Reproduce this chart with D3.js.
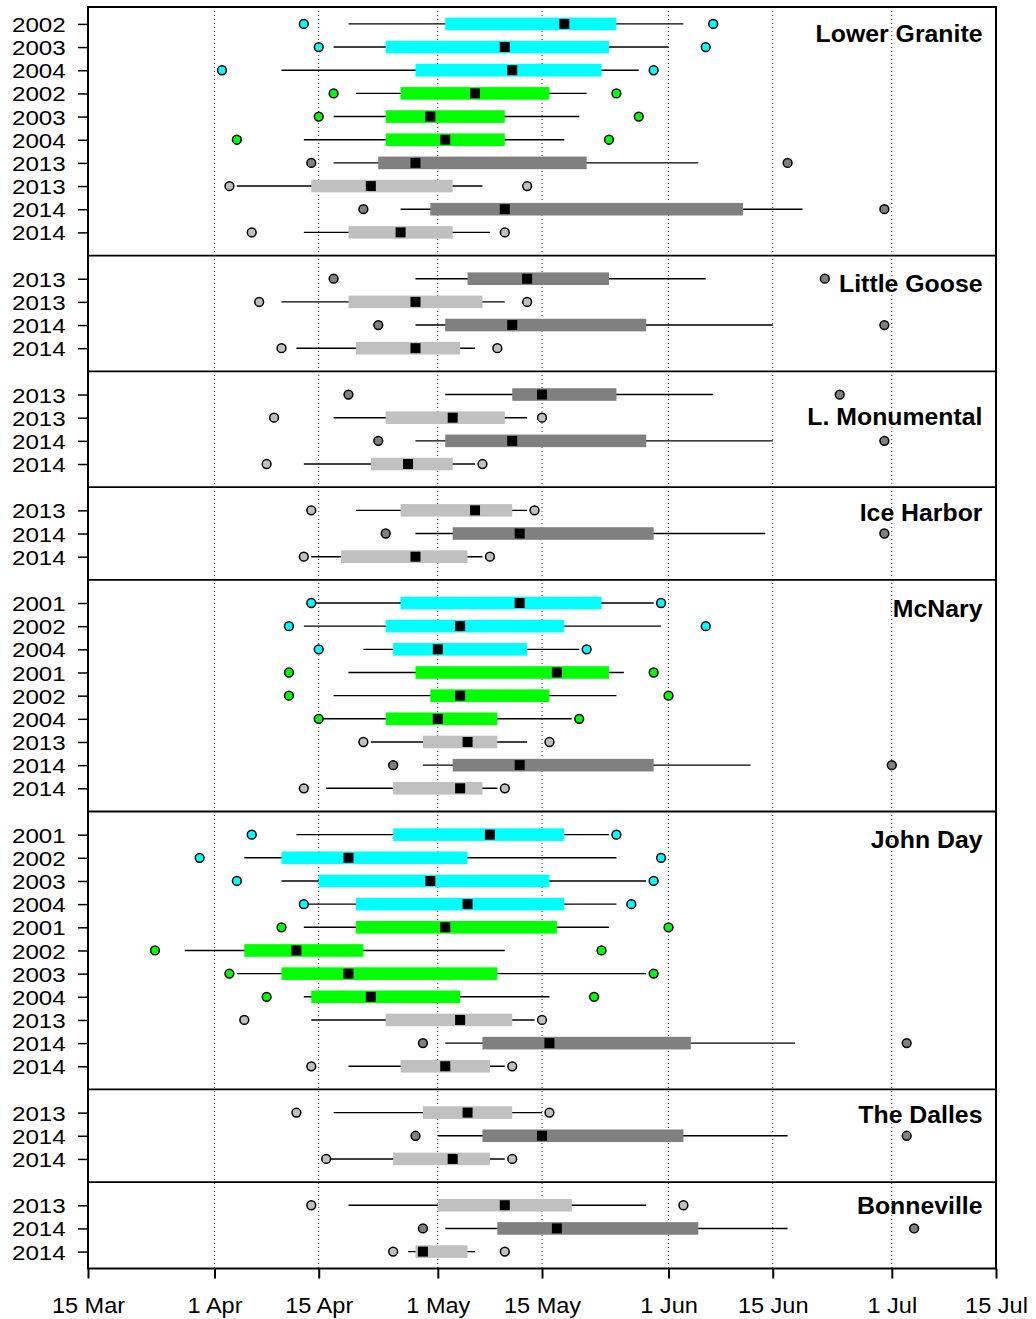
<!DOCTYPE html>
<html>
<head>
<meta charset="utf-8">
<script src="https://cdn.jsdelivr.net/npm/d3@7"></script>
<style>
  body { margin: 0; background: #fff; }
  text { font-family: "Liberation Sans", Arial, sans-serif; fill: #000; }
</style>
</head>
<body>
<svg id="chart" width="1036" height="1319"></svg>
<script>
// ---------------- DATA ----------------
const projects = ["Lower Granite", "Little Goose", "L. Monumental", "Ice Harbor",
                  "McNary", "John Day", "The Dalles", "Bonneville"];
const rowsPerProject = [10, 4, 4, 3, 9, 11, 3, 3];

const rowYear = [
  "2002","2003","2004","2002","2003","2004","2013","2013","2014","2014",
  "2013","2013","2014","2014",
  "2013","2013","2014","2014",
  "2013","2014","2014",
  "2001","2002","2004","2001","2002","2004","2013","2014","2014",
  "2001","2002","2003","2004","2001","2002","2003","2004","2013","2014","2014",
  "2013","2014","2014",
  "2013","2014","2014"
];
const rowGroup = [
  "A","A","A","B","B","B","C","D","C","D",
  "C","D","C","D",
  "C","D","C","D",
  "D","C","D",
  "A","A","A","B","B","B","D","C","D",
  "A","A","A","A","B","B","B","B","D","C","D",
  "D","C","D",
  "D","C","D"
];
const lowPoint = [
  "Apr 13","Apr 15","Apr 2","Apr 17","Apr 15","Apr 4","Apr 14","Apr 3","Apr 21","Apr 6",
  "Apr 17","Apr 7","Apr 23","Apr 10",
  "Apr 19","Apr 9","Apr 23","Apr 8",
  "Apr 14","Apr 24","Apr 13",
  "Apr 14","Apr 11","Apr 15","Apr 11","Apr 11","Apr 15","Apr 21","Apr 25","Apr 13",
  "Apr 6","Mar 30","Apr 4","Apr 13","Apr 10","Mar 24","Apr 3","Apr 8","Apr 5","Apr 29","Apr 14",
  "Apr 12","Apr 28","Apr 16",
  "Apr 14","Apr 29","Apr 25"
];
const lowWhisker = [
  "Apr 19","Apr 17","Apr 10","Apr 20","Apr 17","Apr 13","Apr 17","Apr 4","Apr 26","Apr 13",
  "Apr 28","Apr 10","Apr 28","Apr 12",
  "May 2","Apr 17","Apr 28","Apr 13",
  "Apr 20","Apr 28","Apr 14",
  "Apr 14","Apr 13","Apr 21","Apr 19","Apr 17","Apr 15","Apr 22","Apr 29","Apr 16",
  "Apr 12","Apr 5","Apr 10","Apr 13","Apr 13","Mar 28","Apr 4","Apr 13","Apr 14","May 2","Apr 19",
  "Apr 17","May 1","Apr 16",
  "Apr 19","May 2","Apr 27"
];
const q1 = [
  "May 2","Apr 24","Apr 28","Apr 26","Apr 24","Apr 24","Apr 23","Apr 14","Apr 30","Apr 19",
  "May 5","Apr 19","May 2","Apr 20",
  "May 11","Apr 24","May 2","Apr 22",
  "Apr 26","May 3","Apr 18",
  "Apr 26","Apr 24","Apr 25","Apr 28","Apr 30","Apr 24","Apr 29","May 3","Apr 25",
  "Apr 25","Apr 10","Apr 15","Apr 20","Apr 20","Apr 5","Apr 10","Apr 14","Apr 24","May 7","Apr 26",
  "Apr 29","May 7","Apr 25",
  "May 1","May 9","Apr 28"
];
const median = [
  "May 18","May 10","May 11","May 6","Apr 30","May 2","Apr 28","Apr 22","May 10","Apr 26",
  "May 13","Apr 28","May 11","Apr 28",
  "May 15","May 3","May 11","Apr 27",
  "May 6","May 12","Apr 28",
  "May 12","May 4","May 1","May 17","May 4","May 1","May 5","May 12","May 4",
  "May 8","Apr 19","Apr 30","May 5","May 2","Apr 12","Apr 19","Apr 22","May 4","May 16","May 2",
  "May 5","May 15","May 3",
  "May 10","May 17","Apr 29"
];
const q3 = [
  "May 25","May 24","May 23","May 16","May 10","May 10","May 21","May 3","Jun 11","May 3",
  "May 24","May 7","May 29","May 4",
  "May 25","May 10","May 29","May 3",
  "May 11","May 30","May 5",
  "May 23","May 18","May 13","May 24","May 16","May 9","May 9","May 30","May 7",
  "May 18","May 5","May 16","May 18","May 17","Apr 21","May 9","May 4","May 11","Jun 4","May 8",
  "May 11","Jun 3","May 8",
  "May 19","Jun 5","May 5"
];
const highWhisker = [
  "Jun 3","Jun 1","May 28","May 21","May 20","May 18","Jun 5","May 7","Jun 19","May 8",
  "Jun 6","May 10","Jun 15","May 6",
  "Jun 7","May 13","Jun 15","May 6",
  "May 13","Jun 14","May 7",
  "May 30","May 31","May 20","May 26","May 25","May 19","May 13","Jun 12","May 9",
  "May 24","May 25","May 29","May 25","May 24","May 10","May 29","May 16","May 14","Jun 18","May 10",
  "May 15","Jun 17","May 10",
  "May 29","Jun 17","May 6"
];
const highPoint = [
  "Jun 7","Jun 6","May 30","May 25","May 28","May 24","Jun 17","May 13","Jun 30","May 10",
  "Jun 22","May 13","Jun 30","May 9",
  "Jun 24","May 15","Jun 30","May 7",
  "May 14","Jun 30","May 8",
  "May 31","Jun 6","May 21","May 30","Jun 1","May 20","May 16","Jul 1","May 10",
  "May 25","May 31","May 30","May 27","Jun 1","May 23","May 30","May 22","May 15","Jul 3","May 11",
  "May 16","Jul 3","May 11",
  "Jun 3","Jul 4","May 10"
];
const tickLabels = ["Mar 15","Apr 1","Apr 15","May 1","May 15","Jun 1","Jun 15","Jul 1","Jul 15"];
const gridLabels = ["Apr 1","Apr 15","May 1","May 15","Jun 1","Jun 15","Jul 1"];

// ---------------- STYLE / LAYOUT ----------------
const groupColor = { A: "#00FFFF", B: "#00FF00", C: "#808080", D: "#C0C0C0" };
const frame = { left: 88, right: 996, top: 7, bottom: 1268.5 };
const labelDrop = [35.3, 36.3, 54, 34, 37.3, 36.6, 34, 32];
const boxH = 12.6, medSize = 10, ptR = 4.4;

// ---------------- BUILD ----------------
const parse = d3.timeParse("%b %d %Y");
const toDate = s => parse(s + " 2001");

const x = d3.scaleTime()
  .domain([toDate(tickLabels[0]), toDate(tickLabels[tickLabels.length - 1])])
  .range([frame.left, frame.right]);
const y = d3.scaleLinear().domain([0.27, 54.73]).range([frame.top, frame.bottom]);

// row indices & separators
const rowIdx = [], sepIdx = [], panelTopIdx = [];
let k = 1;
rowsPerProject.forEach((n, p) => {
  panelTopIdx.push(p === 0 ? null : k - 1);
  for (let i = 0; i < n; i++) rowIdx.push(k++);
  sepIdx.push(k);
  k++;
});

const rows = rowYear.map((yr, i) => ({
  i, year: yr, group: rowGroup[i], idx: rowIdx[i],
  lp: toDate(lowPoint[i]), lw: toDate(lowWhisker[i]), q1: toDate(q1[i]),
  med: toDate(median[i]), q3: toDate(q3[i]), hw: toDate(highWhisker[i]), hp: toDate(highPoint[i])
}));

const svg = d3.select("#chart");

// gridlines
svg.append("g").selectAll("line").data(gridLabels.map(toDate)).join("line")
  .attr("x1", d => x(d)).attr("x2", d => x(d))
  .attr("y1", frame.top).attr("y2", frame.bottom)
  .attr("stroke", "#333").attr("stroke-width", 1).attr("stroke-dasharray", "1,3");

// panel separators
svg.append("g").selectAll("line").data(sepIdx.slice(0, -1)).join("line")
  .attr("x1", frame.left).attr("x2", frame.right)
  .attr("y1", d => y(d)).attr("y2", d => y(d))
  .attr("stroke", "#000").attr("stroke-width", 1.8);

const marks = svg.append("g");
// whiskers
marks.selectAll("line.w").data(rows).join("line").attr("class", "w")
  .attr("x1", d => x(d.lw)).attr("x2", d => x(d.hw))
  .attr("y1", d => y(d.idx)).attr("y2", d => y(d.idx))
  .attr("stroke", "#000").attr("stroke-width", 1.4);
// boxes
marks.selectAll("rect.b").data(rows).join("rect").attr("class", "b")
  .attr("x", d => x(d.q1)).attr("width", d => x(d.q3) - x(d.q1))
  .attr("y", d => y(d.idx) - boxH / 2).attr("height", boxH)
  .attr("fill", d => groupColor[d.group]);
// medians
marks.selectAll("rect.m").data(rows).join("rect").attr("class", "m")
  .attr("x", d => x(d.med) - medSize / 2).attr("width", medSize)
  .attr("y", d => y(d.idx) - medSize / 2).attr("height", medSize)
  .attr("fill", "#000");
// extreme points
const pts = rows.flatMap(d => [{ d, v: d.lp }, { d, v: d.hp }]);
marks.selectAll("circle").data(pts).join("circle")
  .attr("cx", p => x(p.v)).attr("cy", p => y(p.d.idx)).attr("r", ptR)
  .attr("fill", p => groupColor[p.d.group])
  .attr("stroke", "#000").attr("stroke-width", 1.5);

// frame
svg.append("rect")
  .attr("x", frame.left).attr("y", frame.top)
  .attr("width", frame.right - frame.left).attr("height", frame.bottom - frame.top)
  .attr("fill", "none").attr("stroke", "#000").attr("stroke-width", 2);

// y axis (years)
const yAxis = svg.append("g").attr("transform", `translate(${frame.left},0)`)
  .call(d3.axisLeft(y).tickValues(rowIdx).tickFormat((d, i) => rowYear[i]).tickSize(10));
yAxis.select(".domain").remove();
yAxis.selectAll(".tick line").attr("stroke", "#000").attr("stroke-width", 1.5);
yAxis.selectAll(".tick text")
  .attr("font-family", "Liberation Sans, Arial, sans-serif")
  .attr("font-size", 21).attr("x", -22.3 / 1.15).attr("dy", "0.36em")
  .attr("transform", "scale(1.15,1)");

// x axis
const xAxis = svg.append("g").attr("transform", `translate(0,${frame.bottom})`)
  .call(d3.axisBottom(x).tickValues(tickLabels.map(toDate))
        .tickFormat(d3.timeFormat("%-d %b")).tickSize(10));
xAxis.select(".domain").remove();
xAxis.selectAll(".tick line").attr("stroke", "#000").attr("stroke-width", 2);
xAxis.selectAll(".tick text")
  .attr("font-family", "Liberation Sans, Arial, sans-serif")
  .attr("font-size", 22).attr("y", 45).attr("dy", 0)
  .attr("transform", "scale(1.07,1)");

// panel labels
svg.append("g").selectAll("text").data(projects).join("text")
  .attr("text-anchor", "end")
  .attr("font-weight", "bold").attr("font-size", 24)
  .attr("transform", (d, p) => {
    const top = p === 0 ? frame.top : y(panelTopIdx[p]);
    return `translate(982.5,${top + labelDrop[p]}) scale(1.035,1)`;
  })
  .text(d => d);
</script>
</body>
</html>
